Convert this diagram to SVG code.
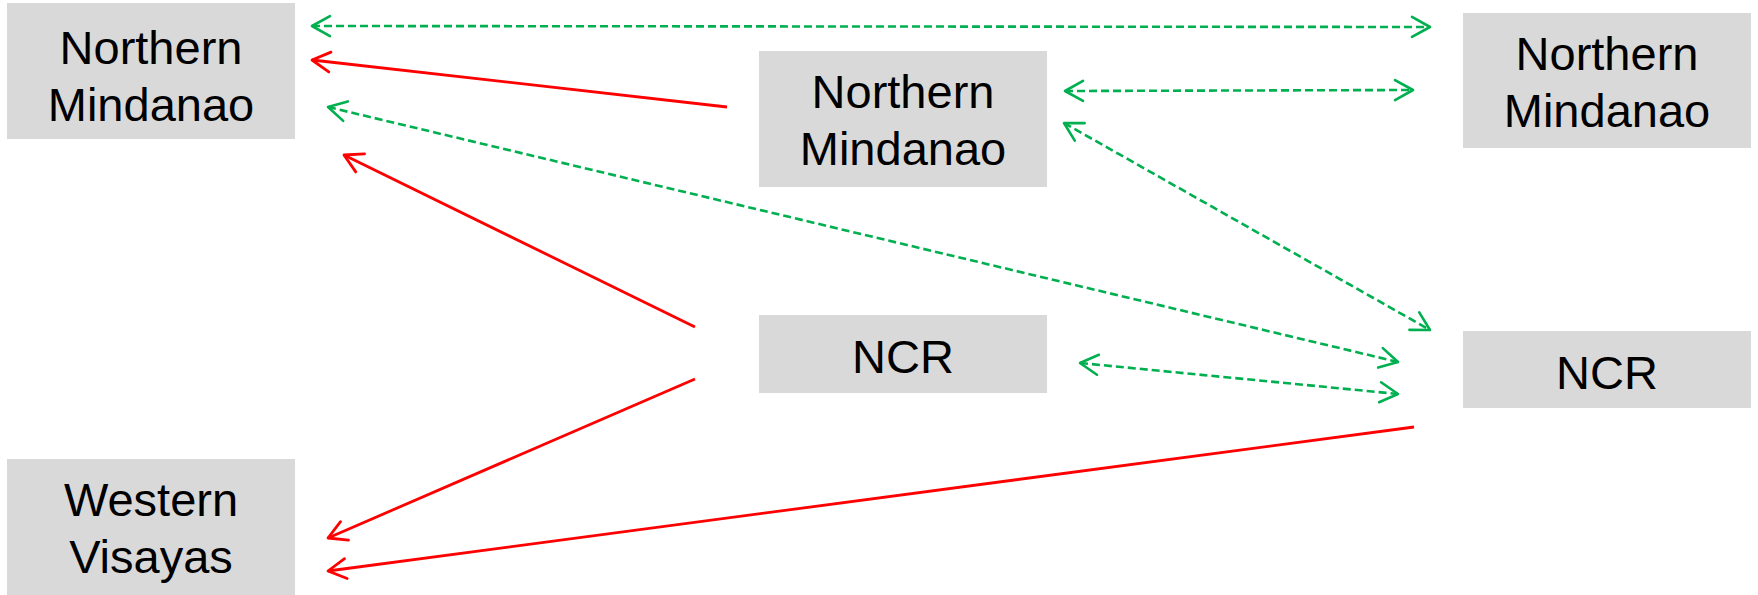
<svg xmlns="http://www.w3.org/2000/svg" width="1758" height="595" viewBox="0 0 1758 595">
<style>
.box{fill:#D9D9D9;}
.lbl{font-family:"Liberation Sans",Arial,sans-serif;font-size:47px;fill:#000;text-anchor:middle;}
.red{stroke:#FF0000;stroke-width:2.8;fill:none;marker-end:url(#ar);}
.grn{stroke:#00B050;stroke-width:2.6;fill:none;stroke-dasharray:8,4;marker-start:url(#ag);marker-end:url(#ag);}
</style>
<defs>
<marker id="ar" markerUnits="userSpaceOnUse" viewBox="-22 -13 26 26" refX="0" refY="0" markerWidth="26" markerHeight="26" orient="auto-start-reverse">
<path d="M-18,-10 L0,0 L-18,10" fill="none" stroke="#FF0000" stroke-width="2.8" stroke-linejoin="round" stroke-linecap="round"/>
</marker>
<marker id="ag" markerUnits="userSpaceOnUse" viewBox="-22 -13 26 26" refX="0" refY="0" markerWidth="26" markerHeight="26" orient="auto-start-reverse">
<path d="M-18,-10 L0,0 L-18,10" fill="none" stroke="#00B050" stroke-width="2.6" stroke-linejoin="round" stroke-linecap="round"/>
</marker>
</defs>
<rect width="1758" height="595" fill="#FFFFFF"/>
<g id="nodeA"><rect class="box" x="7" y="3" width="288" height="136"/><text class="lbl" x="151" y="64">Northern</text><text class="lbl" x="151" y="121">Mindanao</text></g>
<g id="nodeB"><rect class="box" x="759" y="51" width="288" height="136"/><text class="lbl" x="903" y="108">Northern</text><text class="lbl" x="903" y="165">Mindanao</text></g>
<g id="nodeC"><rect class="box" x="1463" y="13" width="288" height="135"/><text class="lbl" x="1607" y="70">Northern</text><text class="lbl" x="1607" y="127">Mindanao</text></g>
<g id="nodeD"><rect class="box" x="759" y="315" width="288" height="78"/><text class="lbl" x="903" y="373">NCR</text></g>
<g id="nodeE"><rect class="box" x="1463" y="331" width="288" height="77"/><text class="lbl" x="1607" y="389">NCR</text></g>
<g id="nodeF"><rect class="box" x="7" y="459" width="288" height="136"/><text class="lbl" x="151" y="516">Western</text><text class="lbl" x="151" y="573">Visayas</text></g>
<g id="connectors">
<line class="grn" x1="312" y1="26" x2="1430" y2="27"/>
<line class="red" x1="727" y1="107" x2="312" y2="60"/>
<line class="grn" x1="1065" y1="91" x2="1413" y2="90"/>
<line class="grn" x1="328" y1="107" x2="1398" y2="362"/>
<line class="grn" x1="1064" y1="123" x2="1430" y2="330"/>
<line class="red" x1="695" y1="327" x2="344" y2="155"/>
<line class="red" x1="695" y1="379" x2="328" y2="538"/>
<line class="grn" x1="1080" y1="363" x2="1398" y2="394"/>
<line class="red" x1="1414" y1="427" x2="328" y2="571"/>
</g>
</svg>
